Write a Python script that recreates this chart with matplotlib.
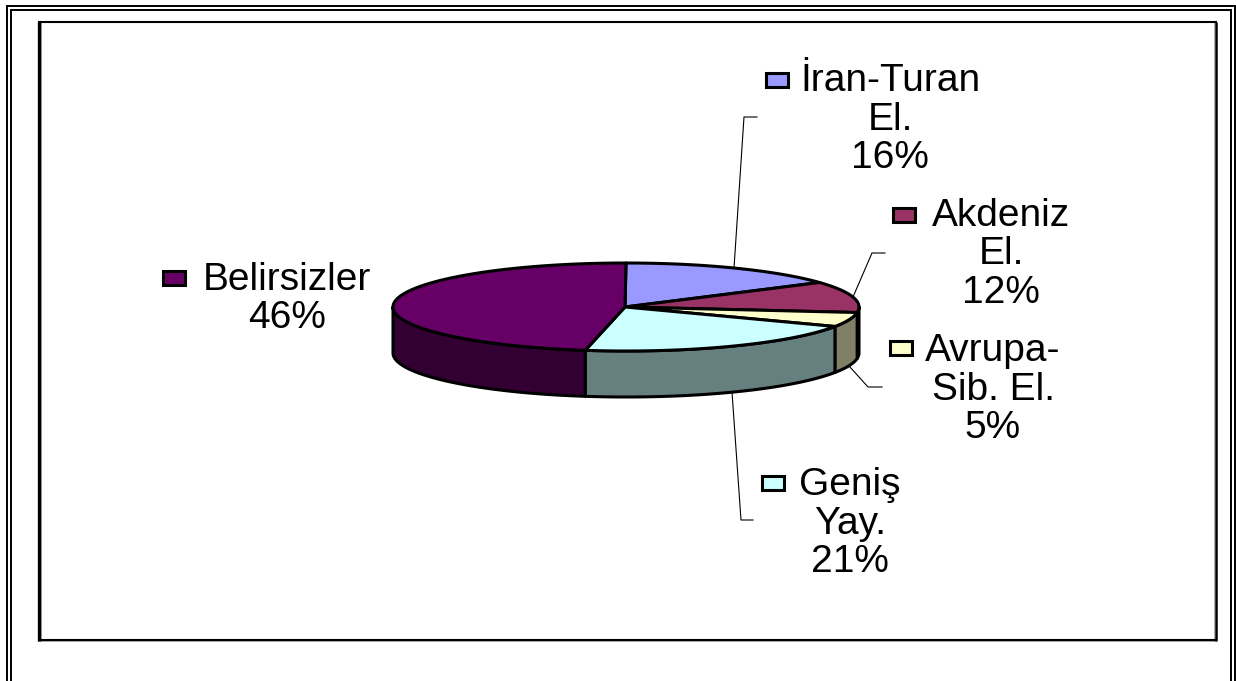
import numpy as np
import matplotlib
matplotlib.use("Agg")
import matplotlib.pyplot as plt
from matplotlib.patches import Rectangle

W, H = 1236, 681
plt.rcParams['font.family'] = ['Liberation Sans', 'DejaVu Sans']

# Data
names = ["İran-Turan\nEl.", "Akdeniz\nEl.", "Avrupa-\nSib. El.", "Geniş\nYay.", "Belirsizler"]
percent_labels = ["16%", "12%", "5%", "21%", "46%"]
slice_shares = [15.6, 11.4, 5.3, 20.5, 47.2]   # as drawn in the picture
top_colors = ["#9999FF", "#993366", "#FFFFCC", "#CCFFFF", "#660066"]
side_colors = ["#4D4D80", "#000000", "#808066", "#668080", "#330033"]

# Layout (pixels)
CX, CY, RX, RY, DEPTH = 626, 307, 233, 44, 46
label_centers = [(890, 77), (1001, 212), (993, 347), (850, 481), (287, 276)]
marker_lefts = [(766, 80), (893, 215), (890, 348), (762, 483), (163, 278)]
LINE_PITCH = 38.5
leaders = [
    [(757, 117), (744, 117), (734, 268)],
    [(885, 253), (872, 253), (853, 297)],
    [(850, 367), (868, 387), (882, 387)],
    [(732, 392), (741, 520), (753, 520)],
]

fig = plt.figure(figsize=(W / 100, H / 100), dpi=100)
ax = fig.add_axes([0, 0, 1, 1])
ax.set_xlim(0, W)
ax.set_ylim(H, 0)
ax.axis("off")

# Page frame (double rule)
for x0, y0, x1 in [(6.5, 5.5, 1235), (10.5, 9.5, 1231)]:
    ax.plot([x0, x0, x1, x1], [H, y0, y0, H], color="k", lw=1.4,
            solid_joinstyle="miter", zorder=1)

# Chart frame: black rule with a soft grey edge beside it
ax.plot([41.3, 41.3], [23, 640], color="#AAAAAA", lw=0.7, zorder=2)
ax.plot([38, 1216], [21.0, 21.0], color="#AAAAAA", lw=0.7, zorder=2)
ax.plot([1214.2, 1214.2], [23, 640], color="#AAAAAA", lw=0.7, zorder=2)
ax.plot([38, 1216], [641.4, 641.4], color="#AAAAAA", lw=0.7, zorder=2)
ax.plot([39.2, 39.2], [21.5, 641], color="k", lw=2.4, solid_capstyle="butt", zorder=3)
ax.plot([1215.6, 1215.6], [21.5, 641], color="k", lw=1.8, solid_capstyle="butt", zorder=3)
ax.plot([38, 1216.5], [22.4, 22.4], color="k", lw=1.5, solid_capstyle="butt", zorder=3)
ax.plot([38, 1216.5], [640.2, 640.2], color="k", lw=1.5, solid_capstyle="butt", zorder=3)


def rim(t):
    return CX + RX * np.sin(t), CY - RY * np.cos(t)


edges = np.deg2rad(np.concatenate([[0], np.cumsum(slice_shares)]) * 3.6)

# Side walls (the visible front half of the rim)
for i in range(len(slice_shares)):
    a = max(edges[i], np.pi / 2)
    b = min(edges[i + 1], 3 * np.pi / 2)
    if b <= a:
        continue
    t = np.linspace(a, b, 120)
    x, y = rim(t)
    ax.fill(np.r_[x, x[::-1]], np.r_[y, y[::-1] + DEPTH], fc=side_colors[i],
            ec="k", lw=2.2, joinstyle="round", zorder=4)

# Top faces
for i in range(len(slice_shares)):
    t = np.linspace(edges[i], edges[i + 1], 200)
    x, y = rim(t)
    ax.fill(np.r_[CX - 1, x], np.r_[CY, y], fc=top_colors[i], ec="k", lw=2.2,
            joinstyle="round", zorder=5)

# Leader lines
for pts in leaders:
    xs, ys = zip(*pts)
    ax.plot(xs, ys, color="k", lw=0.8, zorder=6)

# Labels
for name, pct, col, (cx, cy), (mx, my) in zip(names, percent_labels, top_colors,
                                              label_centers, marker_lefts):
    lines = name.split("\n") + [pct]
    for k, line in enumerate(lines):
        ax.text(cx, cy + k * LINE_PITCH, line, ha="center", va="center_baseline",
                fontsize=28, color="k", zorder=7)
    ax.add_patch(Rectangle((mx, my - 7), 22, 14, fc=col, ec="k", lw=2.2, zorder=7))

fig.savefig("out.png", dpi=100, facecolor="white")
